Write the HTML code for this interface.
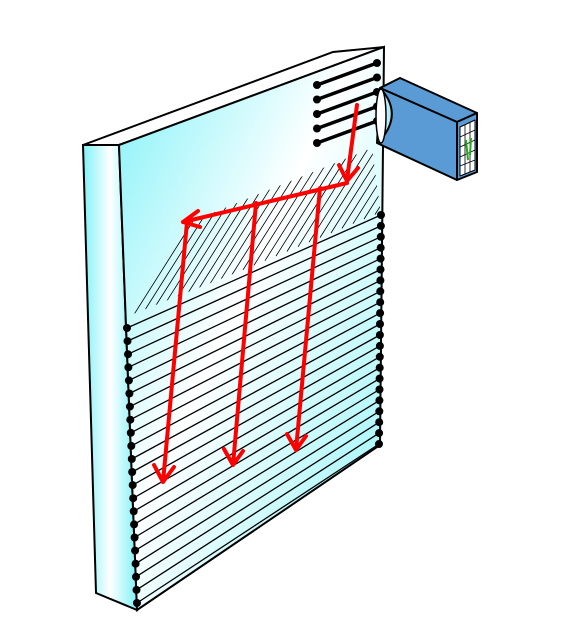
<!DOCTYPE html>
<html><head><meta charset="utf-8"><style>html,body{margin:0;padding:0;background:#fff}svg{display:block}</style></head>
<body>
<svg width="574" height="621" viewBox="0 0 574 621">
<defs>
<linearGradient id="face" x1="0" y1="0" x2="1" y2="1">
<stop offset="0" stop-color="#7ff2f8"/><stop offset="0.45" stop-color="#ffffff"/><stop offset="1" stop-color="#8ff4f8"/></linearGradient>
<linearGradient id="side" x1="0" y1="0" x2="1" y2="0">
<stop offset="0" stop-color="#7ff2f8"/><stop offset="0.5" stop-color="#ffffff"/><stop offset="1" stop-color="#7ff2f8"/></linearGradient>
<linearGradient id="lens" x1="0" y1="0" x2="1" y2="0">
<stop offset="0" stop-color="#ffffff"/><stop offset="1" stop-color="#9fe8f2"/></linearGradient>
<clipPath id="hatchclip"><polygon points="128,316 190,222 372,148 381,215"/></clipPath>
<marker id="dot" markerUnits="userSpaceOnUse" markerWidth="10" markerHeight="10" refX="5" refY="5"><circle cx="5" cy="5" r="4" fill="#000"/></marker>
</defs>
<polygon points="83,145 333,52 384,47 119,145" fill="#fff" stroke="#000" stroke-width="2"/>
<polygon points="83,145 119,145 137,610 96,593" fill="url(#side)" stroke="#000" stroke-width="2"/>
<polygon points="119,145 384,47 380,445 137,610" fill="url(#face)" stroke="#000" stroke-width="2"/>
<path clip-path="url(#hatchclip)" stroke="#000" stroke-width="0.8" fill="none" d="M100,330l60,-95M111,325.4l60,-95M122,320.8l60,-95M133,316.1l60,-95M144,311.5l60,-95M155,306.9l60,-95M166,302.3l60,-95M177,297.7l60,-95M188,293l60,-95M199,288.4l60,-95M210,283.8l60,-95M221,279.2l60,-95M232,274.6l60,-95M243,269.9l60,-95M254,265.3l60,-95M265,260.7l60,-95M276,256.1l60,-95M287,251.5l60,-95M298,246.8l60,-95M309,242.2l60,-95M320,237.6l60,-95M331,233l60,-95M342,228.4l60,-95M353,223.7l60,-95M364,219.1l60,-95M375,214.5l60,-95"/>
<path stroke="#000" stroke-width="1.3" fill="none" marker-start="url(#dot)" marker-mid="url(#dot)" marker-end="url(#dot)" d="M127,328L381,215M127.5,341.1L380.9,225.9M128,354.2L380.8,236.8M128.4,367.3L380.7,247.7M128.9,380.4L380.6,258.6M129.4,393.5L380.5,269.5M129.9,406.6L380.4,280.4M130.3,419.7L380.3,291.3M130.8,432.8L380.2,302.2M131.3,445.9L380.1,313.1M131.8,459L380,324M132.2,472L379.9,335M132.7,485.1L379.9,345.9M133.2,498.2L379.8,356.8M133.7,511.3L379.7,367.7M134.1,524.4L379.6,378.6M134.6,537.5L379.5,389.5M135.1,550.6L379.4,400.4M135.6,563.7L379.3,411.3M136,576.8L379.2,422.2M136.5,589.9L379.1,433.1M137,603L379,444"/>
<path stroke="#000" stroke-width="3.5" fill="none" marker-start="url(#dot)" marker-mid="url(#dot)" marker-end="url(#dot)" d="M317,85L377,63M317,99.5L377,77.5M317,114L377,92M317,128.5L377,106.5M317,143L377,121"/>
<g stroke="#000" stroke-width="2" stroke-linejoin="round">
<polygon points="380,88 400,78 477,113 457,122" fill="#5b9bd5"/>
<polygon points="380,88 457,122 457,180 377,143" fill="#5b9bd5"/>
<polygon points="457,122 477,113 477,172 457,180" fill="#5b9bd5"/>
<polygon points="460,127 475,120 475,170 460,176" fill="#fff" stroke-width="1"/>
<g stroke-width="0.8">
<line x1="465" y1="125" x2="465" y2="174"/><line x1="470" y1="122" x2="470" y2="172"/>
<line x1="460" y1="137" x2="475" y2="130"/><line x1="460" y1="147" x2="475" y2="140"/>
<line x1="460" y1="157" x2="475" y2="150"/><line x1="460" y1="166" x2="475" y2="160"/>
</g>
<path d="M466,140 L468,160 M471,138 L470,155" stroke="#22aa22" stroke-width="2"/>
<path d="M381,89 Q404,115 378,143" fill="url(#lens)"/>
<ellipse cx="381" cy="116" rx="5" ry="27" fill="#fff" stroke-width="1.5"/>
</g>
<g stroke="#ff0000" stroke-width="4" fill="none" stroke-linecap="round" stroke-linejoin="round">
<path d="M357,105 L347,180 M339,165 L347,181 L358,168"/>
<path d="M347,183 L183,222 M198,211 L183,222 L200,227"/>
<path d="M187,222 L163,482 M154,465 L163,482 L174,467"/>
<path d="M256,203 L233,465 M224,449 L233,465 L243,451"/>
<path d="M320,188 L296,450 M287,434 L296,450 L306,436"/>
</g>
</svg>
</body></html>
